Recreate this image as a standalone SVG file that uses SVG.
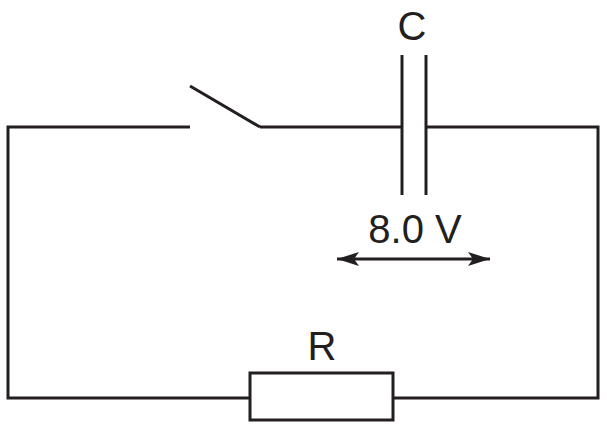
<svg xmlns="http://www.w3.org/2000/svg" width="607" height="431" viewBox="0 0 607 431">
<style>
.w{fill:none;stroke:#231f20;stroke-width:3}
.t{font-family:"Liberation Sans",Arial,sans-serif;font-size:40px;fill:#231f20;text-anchor:middle}
</style>
<defs>
<marker id="ah" viewBox="0 0 10 10" refX="10" refY="5" markerWidth="10" markerHeight="10" markerUnits="userSpaceOnUse" orient="auto-start-reverse">
<path d="M0,0 L10,5 L0,10 z" fill="#231f20" transform="scale(1)"/>
</marker>
<marker id="ah2" viewBox="0 0 22 14" refX="22" refY="7" markerWidth="22" markerHeight="14" markerUnits="userSpaceOnUse" orient="auto-start-reverse">
<path d="M0,0 L22,7 L0,14 L5,7 z" fill="#231f20"/>
</marker>
</defs>
<g id="connectors">
<polyline class="w" points="190,127 8,127 8,398 250,398"/>
<polyline class="w" points="260,127 402,127"/>
<polyline class="w" points="426,127 598,127 598,398 393,398"/>
</g>
<g id="switch"><line class="w" x1="190" y1="86" x2="260" y2="127"/></g>
<g id="capacitor">
<line class="w" x1="402" y1="55" x2="402" y2="195"/>
<line class="w" x1="426" y1="55" x2="426" y2="195"/>
<text class="t" x="412" y="40">C</text>
</g>
<g id="resistor">
<rect class="w" x="250" y="373" width="143" height="47"/>
<text class="t" x="322" y="360">R</text>
</g>
<g id="voltage">
<text class="t" x="415" y="243">8.0 V</text>
<line class="w" x1="337" y1="259" x2="490" y2="259" marker-start="url(#ah2)" marker-end="url(#ah2)"/>
</g>
</svg>
